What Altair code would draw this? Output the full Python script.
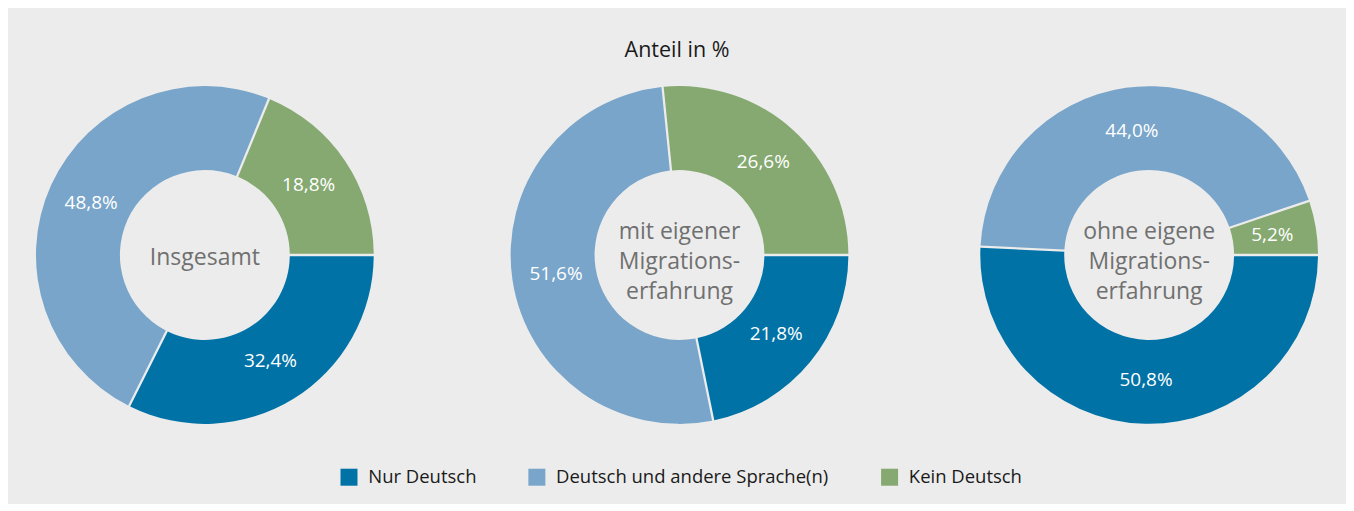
import math
import altair as alt
import pandas as pd

FONT = "Open Sans"

groups = ["Insgesamt", "mit eigener Migrationserfahrung", "ohne eigene Migrationserfahrung"]
center_texts = ["Insgesamt", "mit eigener\nMigrations-\nerfahrung", "ohne eigene\nMigrations-\nerfahrung"]
categories = ["Nur Deutsch", "Deutsch und andere Sprache(n)", "Kein Deutsch"]
colors = ["#0072a6", "#79a5ca", "#85a970"]

insgesamt = [32.4, 48.8, 18.8]
mit_migration = [21.8, 51.6, 26.6]
ohne_migration = [50.8, 44.0, 5.2]
series = [insgesamt, mit_migration, ohne_migration]


def fmt(v):
    return f"{v:.1f}".replace(".", ",") + "%"


theta_scale = alt.Scale(range=[math.pi / 2, math.pi / 2 + 2 * math.pi])
color_scale = alt.Scale(domain=categories, range=colors)
LINE_H = 30


def panel(i, show_legend):
    df = pd.DataFrame({
        "Gruppe": groups[i],
        "Kategorie": categories,
        "Anteil": series[i],
        "idx": list(range(len(categories))),
        "label": [fmt(v) for v in series[i]],
    })
    base = alt.Chart(df)
    theta = alt.Theta("Anteil:Q", stack=True, scale=theta_scale)
    if show_legend:
        legend = alt.Legend(
            title=None, orient="none", direction="horizontal",
            legendX=304, legendY=382,
            symbolType="square", symbolSize=289, symbolStrokeWidth=0,
            labelFont=FONT, labelFontSize=18.5, labelColor="#1a1a1a",
            labelOffset=10, columnPadding=51, padding=0, labelLimit=500,
        )
    else:
        legend = None
    color = alt.Color("Kategorie:N", scale=color_scale, legend=legend, sort=categories)
    arcs = base.mark_arc(outerRadius=169, innerRadius=85, padAngle=0.012).encode(
        theta=theta, color=color, order=alt.Order("idx:Q")
    )
    labels = base.mark_text(radius=125, color="white", fontSize=19, font=FONT).encode(
        theta=theta, text="label:N", order=alt.Order("idx:Q")
    )
    n_lines = center_texts[i].count("\n") + 1
    center = alt.Chart(pd.DataFrame({"t": [center_texts[i]]})).mark_text(
        lineBreak="\n", font=FONT, fontSize=23, color="#707070", lineHeight=LINE_H,
        dy=3 - (n_lines - 1) * 13,
    ).encode(text="t:N")
    return alt.layer(arcs, labels, center).properties(width=338, height=338)


p1 = panel(0, True)
p2 = panel(1, False)
p3 = panel(2, False)

chart = alt.hconcat(
    alt.hconcat(p1, p2, spacing=137),
    p3,
    spacing=132,
).resolve_scale(color="shared").properties(
    title=alt.Title(
        "Anteil in %", font=FONT, fontSize=21.5, fontWeight="normal",
        color="#1a1a1a", anchor="middle", offset=25,
    ),
    padding={"left": 28, "top": 31, "right": 28, "bottom": 17},
    background="#ececec",
).configure_view(stroke=None)

chart.save("out.html", embed_options={"renderer": "svg", "actions": False})
